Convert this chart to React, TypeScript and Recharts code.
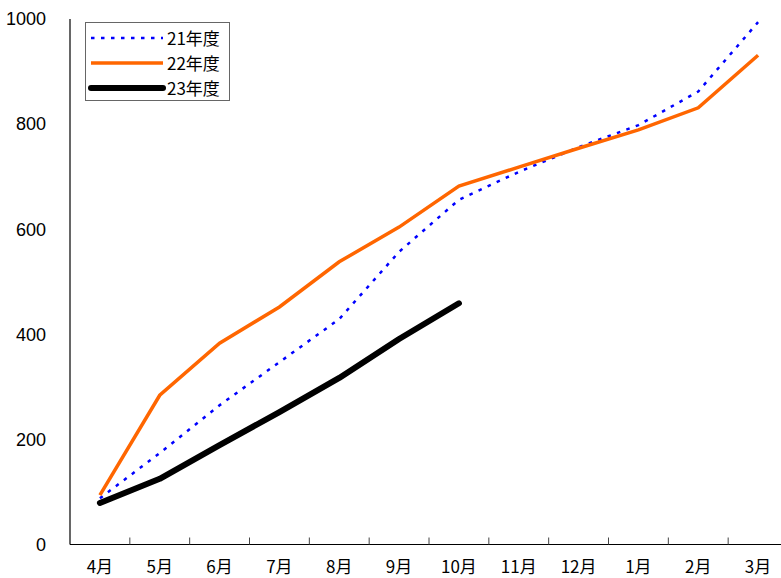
import React from 'react';
import { LineChart, Line, XAxis, YAxis, Legend } from 'recharts';

const months = ['4月', '5月', '6月', '7月', '8月', '9月', '10月', '11月', '12月', '1月', '2月', '3月'];
const fy21 = [88, 174, 265, 347, 429, 557, 656, 709, 756, 798, 862, 994];
const fy22 = [94, 284, 383, 452, 538, 604, 682, 718, 754, 789, 831, 931];
const fy23 = [79, 125, 189, 252, 317, 391, 459];
const yTicks = [0, 200, 400, 600, 800, 1000];

const data = months.map((m, i) => ({
  i,
  month: m,
  fy21: fy21[i],
  fy22: fy22[i],
  fy23: fy23[i],
}));

const labelTicks = months.map((_, i) => i);
const boundaryTicks = months.slice(1).map((_, i) => i + 0.5);

const JP = '"Noto Sans CJK JP", "Noto Sans", sans-serif';

const renderLegend = (props: any) => {
  const { payload } = props;
  return (
    <div
      style={{
        width: 145,
        height: 79,
        border: '1px solid #666',
        background: '#fff',
        boxSizing: 'border-box',
        position: 'relative',
      }}
    >
      {(payload || []).map((entry: any, idx: number) => {
        const p = entry.payload || {};
        const y = 15 + idx * 25;
        return (
          <div key={idx} style={{ position: 'absolute', left: 0, top: y - 12, width: 145, height: 24 }}>
            <svg width={80} height={24} style={{ position: 'absolute', left: 0, top: 0 }}>
              <line
                x1={5}
                x2={77}
                y1={12}
                y2={12}
                stroke={entry.color}
                strokeWidth={p.strokeWidth || 3}
                strokeDasharray={p.strokeDasharray}
                strokeLinecap={p.strokeLinecap || 'butt'}
              />
            </svg>
            <span
              style={{
                position: 'absolute',
                left: 81,
                top: 0,
                lineHeight: '24px',
                fontSize: 17,
                fontFamily: JP,
                color: '#000',
                whiteSpace: 'nowrap',
              }}
            >
              {entry.value}
            </span>
          </div>
        );
      })}
    </div>
  );
};

const EmptyTick = () => <g />;

export default function App() {
  return (
    <div style={{ position: 'absolute', left: 0, top: 0, width: 781, height: 578, overflow: 'hidden', background: '#fff' }}>
      <LineChart width={800} height={578} data={data} margin={{ top: 19, right: 12, bottom: 0, left: 0 }}>
        <XAxis
          xAxisId="lab"
          dataKey="i"
          type="number"
          domain={[-0.5, 11.5]}
          ticks={labelTicks}
          interval={0}
          height={33.5}
          tickFormatter={(v: number) => months[v]}
          axisLine={{ stroke: '#000', strokeWidth: 1.2 }}
          tickLine={false}
          tickSize={6}
          tickMargin={10.5}
          tick={{ fill: '#000', fontSize: 17, fontFamily: JP }}
        />
        <XAxis
          xAxisId="tk"
          dataKey="i"
          type="number"
          domain={[-0.5, 11.5]}
          ticks={boundaryTicks}
          interval={0}
          height={10}
          mirror
          axisLine={false}
          tick={EmptyTick}
          tickSize={7}
          tickLine={{ stroke: '#444', strokeWidth: 1 }}
        />
        <YAxis
          yAxisId="lab"
          domain={[0, 1000]}
          ticks={yTicks}
          interval={0}
          width={70}
          axisLine={{ stroke: '#000', strokeWidth: 1.2 }}
          tickLine={false}
          tickSize={0}
          tickMargin={24}
          tick={{ fill: '#000', fontSize: 18, fontFamily: '"Liberation Sans", Arial, sans-serif' }}
        />
        <YAxis
          yAxisId="tk"
          domain={[0, 1000]}
          ticks={yTicks}
          interval={0}
          width={10}
          mirror
          axisLine={false}
          tick={EmptyTick}
          tickSize={7}
          tickLine={{ stroke: '#444', strokeWidth: 1 }}
        />
        <Legend
          layout="vertical"
          align="center"
          verticalAlign="middle"
          content={renderLegend}
          wrapperStyle={{ left: 85, top: 22, width: 145, height: 79 }}
        />
        <Line
          xAxisId="lab"
          yAxisId="lab"
          name="21年度"
          dataKey="fy21"
          stroke="#0000ff"
          strokeWidth={2.5}
          strokeDasharray="3.5 6.5"
          dot={false}
          activeDot={false}
          isAnimationActive={false}
        />
        <Line
          xAxisId="lab"
          yAxisId="lab"
          name="22年度"
          dataKey="fy22"
          stroke="#ff6600"
          strokeWidth={3.5}
          dot={false}
          activeDot={false}
          isAnimationActive={false}
        />
        <Line
          xAxisId="lab"
          yAxisId="lab"
          name="23年度"
          dataKey="fy23"
          stroke="#000000"
          strokeWidth={6}
          strokeLinecap="round"
          strokeLinejoin="round"
          dot={false}
          activeDot={false}
          isAnimationActive={false}
        />
      </LineChart>
    </div>
  );
}
